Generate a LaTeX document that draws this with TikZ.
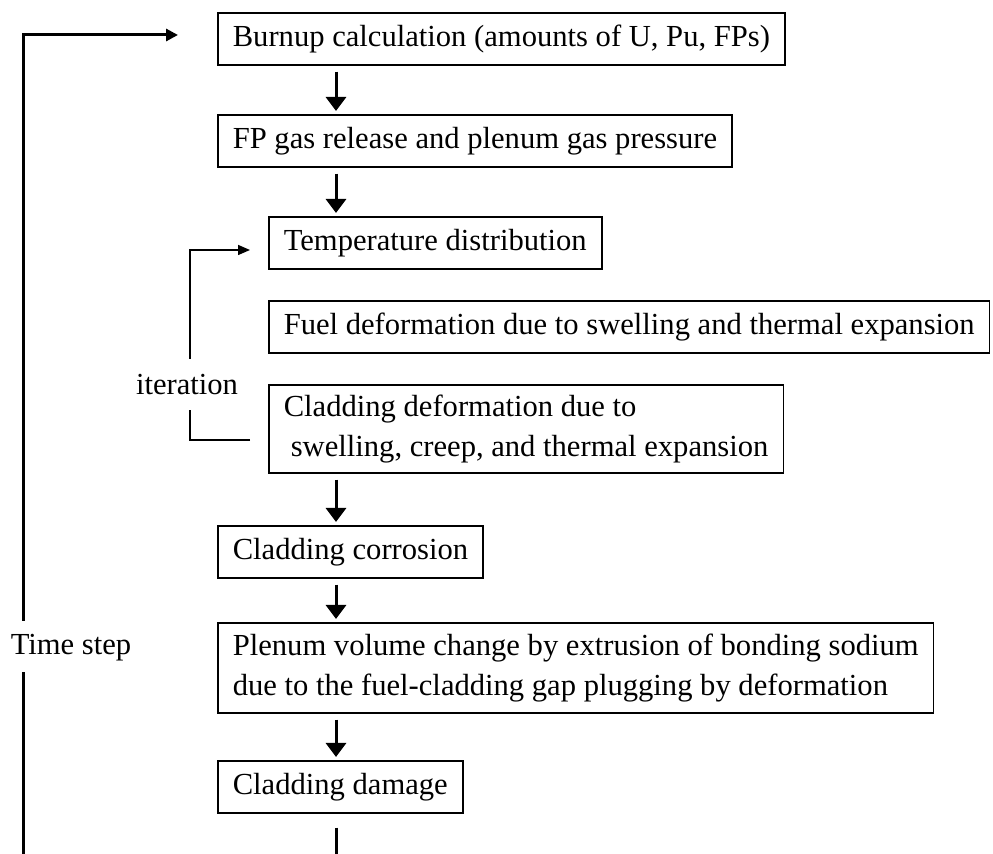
\documentclass[tikz,border=0pt]{standalone}
\usepackage{fontspec}
\setmainfont{Liberation Serif}
\usetikzlibrary{positioning,calc,arrows.meta}

\begin{document}
\begin{tikzpicture}[x=0.5pt,y=-0.5pt,
  stepbox/.style={draw, line width=0.8pt, anchor=north west, align=left, inner xsep=7.5pt, minimum height=26pt, font=\fontsize{15.3}{20}\selectfont},
  flow/.style={line width=1.5pt, -{Triangle[width=10pt,length=7pt]}, shorten <=3pt, shorten >=1.5pt},
  timeline/.style={line width=1.5pt},
  iterline/.style={line width=0.75pt},
  lbl/.style={font=\fontsize{15.3}{20}\selectfont, inner sep=0pt}]
\useasboundingbox (0,0) rectangle (993,854);
\coordinate (spine) at (336,0);
% main chain
\node[stepbox] (burnup) at (217,12) {Burnup calculation (amounts of U, Pu, FPs)};
\node[stepbox] (fpgas) at (217,114) {FP gas release and plenum gas pressure};
\node[stepbox] (temp) at (268,216) {Temperature distribution};
\node[stepbox] (fuel) at (268,300) {Fuel deformation due to swelling and thermal expansion};
\node[stepbox, minimum height=44pt] (claddef) at (268,384) {Cladding deformation due to\\\hspace*{3.5pt}swelling, creep, and thermal expansion};
\node[stepbox] (corrosion) at (217,525) {Cladding corrosion};
\node[stepbox, minimum height=45pt] (plenum) at (217,622) {Plenum volume change by extrusion of bonding sodium\\due to the fuel-cladding gap plugging by deformation};
\node[stepbox] (damage) at (217,760) {Cladding damage};
\foreach \a/\b in {burnup/fpgas, fpgas/temp, claddef/corrosion, corrosion/plenum, plenum/damage}
  \draw[flow] (\a.south -| spine) -- (\b.north -| spine);
\coordinate (dmgend) at (336,854);
\draw[timeline, shorten <=7pt] (damage.south -| spine) -- (dmgend);
% time step loop
\node[lbl] (tstep) at (71,648) {Time step};
\coordinate (tbot) at (23,854);
\coordinate (tgapb) at (23,672);
\coordinate (tgapt) at (23,621);
\coordinate (tin) at (178,35);
\draw[timeline] (tbot) -- (tgapb);
\draw[timeline, -{Triangle[width=6pt,length=6pt]}] (tgapt) |- (tin);
% iteration loop
\node[lbl] (iter) at (187,385) {iteration};
\coordinate (itout) at (250,440);
\coordinate (itgapb) at (190,410);
\coordinate (itgapt) at (190,359);
\coordinate (itin) at (250,250);
\draw[iterline] (itout) -| (itgapb);
\draw[iterline, -{Triangle[width=5pt,length=6pt]}] (itgapt) |- (itin);
\end{tikzpicture}
\end{document}
